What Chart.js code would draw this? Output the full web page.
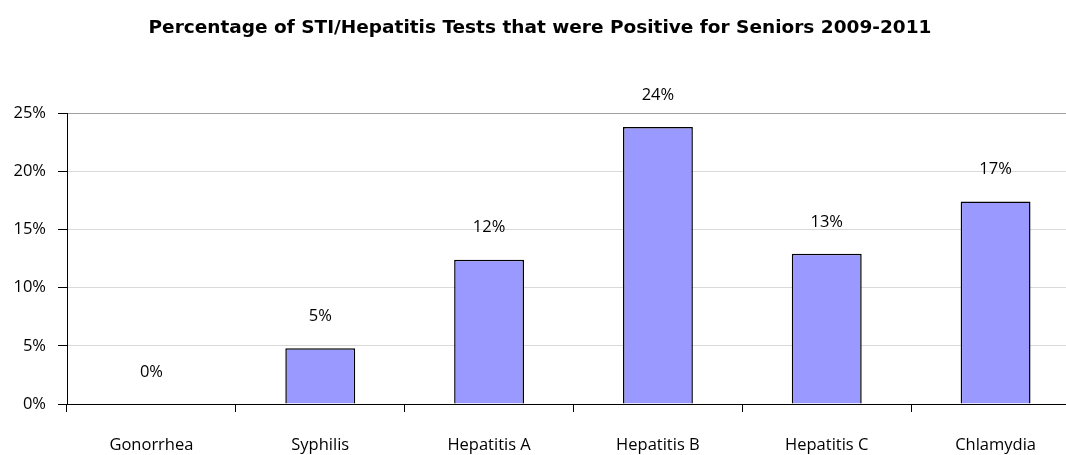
<!DOCTYPE html>
<html><head><meta charset="utf-8">
<script src="https://cdn.jsdelivr.net/npm/chart.js@4/dist/chart.umd.min.js"></script>
<style>html,body{margin:0;padding:0;overflow:hidden;background:#fff;width:1066px;height:455px}canvas{display:block}</style>
</head><body>
<canvas id="c" width="1090" height="455" style="width:1090px;height:455px"></canvas>
<script>
const categories = ["Gonorrhea","Syphilis","Hepatitis A","Hepatitis B","Hepatitis C","Chlamydia"];
const positivePct = [0, 4.8, 12.4, 23.8, 12.9, 17.4];
const valueLabels = ["0%","5%","12%","24%","13%","17%"];
const yTicks = [0,5,10,15,20,25];
const titleText = "Percentage of STI/Hepatitis Tests that were Positive for Seniors 2009-2011";

const FONT = "'Open Sans', Lato, sans-serif";
const TITLE_FONT = "'DejaVu Sans', sans-serif";

const labelPlugin = {
  id: 'valueLabels',
  afterDatasetsDraw(chart) {
    const ctx = chart.ctx;
    const meta = chart.getDatasetMeta(0);
    ctx.save();
    ctx.font = "16.5px " + FONT;
    ctx.fillStyle = "#000";
    ctx.textAlign = "center";
    ctx.textBaseline = "middle";
    meta.data.forEach((bar, i) => {
      ctx.fillText(valueLabels[i], bar.x, bar.y - 32);
    });
    ctx.restore();
  }
};

new Chart(document.getElementById('c'), {
  type: 'bar',
  data: {
    labels: categories,
    datasets: [{
      data: positivePct,
      backgroundColor: '#9999ff',
      borderColor: '#000',
      borderWidth: 1.5,
      categoryPercentage: 0.414,
      barPercentage: 1
    }]
  },
  options: {
    responsive: false,
    animation: false,
    layout: { padding: { left: 0, right: 10, top: 0, bottom: 0 } },
    plugins: {
      legend: { display: false },
      tooltip: { enabled: false },
      title: {
        display: true,
        text: titleText,
        color: '#000',
        font: { family: TITLE_FONT, size: 18.5, weight: 'bold' },
        padding: { top: 17, bottom: 73.8 }
      }
    },
    scales: {
      x: {
        afterFit(scale) { scale.height = 51; },
        grid: { display: true, drawOnChartArea: false, offset: true, tickLength: 8, tickColor: '#000' },
        border: { color: '#000', width: 1 },
        ticks: { color: '#000', font: { family: FONT, size: 16.5 }, padding: 23, maxRotation: 0 }
      },
      y: {
        min: 0, max: 25,
        afterFit(scale) { scale.width = 67; },
        afterBuildTicks(scale) { scale.ticks = yTicks.map(v => ({ value: v })); },
        grid: {
          color: ctx => (ctx.tick && ctx.tick.value === 25) ? '#a0a0a0' : '#d9d9d9',
          tickColor: '#000', tickLength: 9, lineWidth: 1
        },
        border: { color: '#000', width: 1 },
        ticks: { color: '#000', font: { family: FONT, size: 16.5 }, padding: 12, callback: v => v + '%' }
      }
    }
  },
  plugins: [labelPlugin]
});
</script>
</body></html>
